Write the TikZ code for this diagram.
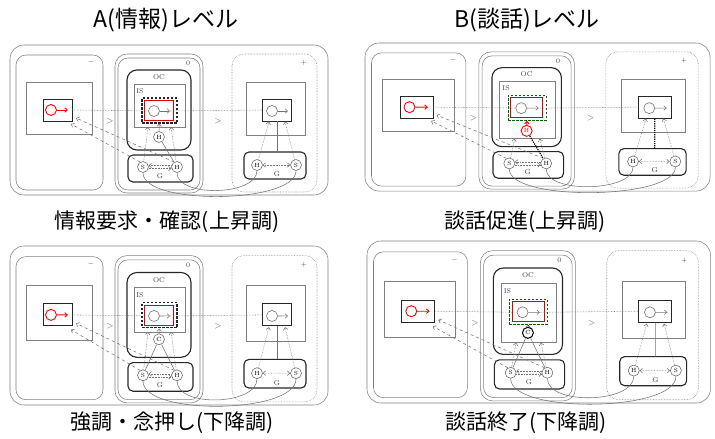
\documentclass[tikz,border=0pt]{standalone}
\usepackage{fontspec}
\newfontfamily\jp{Noto Sans CJK JP}
\usetikzlibrary{arrows.meta}
\tikzset{
  gl/.style={draw=black!55, line width=0.55pt},
  box/.style={draw=black!50, line width=0.55pt},
  tbox/.style={draw=black!85, line width=1.1pt},
  lab/.style={font=\fontsize{7}{7}\selectfont, text=black!75, inner sep=0pt},
  gt/.style={font=\fontsize{9}{9}\selectfont, text=black!60, inner sep=0pt},
  circ/.style={circle, draw=black!60, fill=white, line width=0.55pt, minimum size=11pt, inner sep=0pt, font=\fontsize{6}{6}\selectfont},
  bigc/.style={circle, draw=black!55, fill=white, line width=0.6pt, minimum size=11pt, inner sep=0pt},
  sbox/.style={draw=black!85, line width=0.9pt, minimum width=29pt, minimum height=22pt, inner sep=0pt},
  dbox/.style={line width=1.1pt, dash pattern=on 2.5pt off 1.5pt, minimum width=35pt, minimum height=25pt, inner sep=0pt},
  rbox/.style={draw=red!85!black, line width=0.6pt, minimum width=29pt, minimum height=20pt, inner sep=0pt},
  tip/.style={-{Straight Barb[length=2.5pt,width=4.5pt]}},
  tips/.style={{Straight Barb[length=2.5pt,width=4.5pt]}-{Straight Barb[length=2.5pt,width=4.5pt]}},
  title/.style={font=\jp\fontsize{23}{23}\selectfont, inner sep=0pt},
  capt/.style={font=\jp\fontsize{21}{21}\selectfont, inner sep=0pt},
}
\newcommand\panelbase[2]{%
  \draw[box, rounded corners=14pt] (0,0) rectangle (318,150);
  % left panel
  \draw[box, rounded corners=10pt] (6,10) rectangle (93,145);
  \node[lab] (mn) at (81,17) {$-$};
  \draw[box] (16,37) rectangle (82,89);
  \node[sbox] (ls) at (47.5,65) {};
  \node[bigc, draw=red, line width=0.9pt] (lc) at (41,65) {};
  \coordinate (lce) at (58,65);
  \draw[red, line width=0.9pt, tip] (lc) -- (lce);
  % centre panel
  \draw[box, rounded corners=12pt] (105,9) rectangle (193,148);
  \draw[box, rounded corners=10pt] (108,13) rectangle (190,145);
  \node[lab] (zr) at (178,18) {0};
  \draw[tbox, rounded corners=10pt] (117,25) rectangle (181,105);
  \node[lab] (oc) at (149,32) {OC};
  \draw[box] (124,39) rectangle (175,#1);
  \node[lab] (is) at (130,46) {IS};
  \node[dbox, draw=#2] (db) at (149.5,65.5) {};
  \node[rbox] (rb) at (149,65.5) {};
  \node[bigc] (cc) at (144,66) {};
  \coordinate (cce) at (160,66);
  \draw[gl, tip] (cc) -- (cce);
  \draw[tbox, rounded corners=5pt] (118,110) rectangle (183,137);
  \node[circ] (Sg) at (133,122) {S};
  \node[circ] (Hg) at (167,122) {H};
  \node[lab] (gg) at (150,131) {G};
  % right panel
  \draw[box, densely dotted, rounded corners=12pt] (222,9) rectangle (307,147);
  \node[lab] (pl) at (294,18) {$+$};
  \draw[box] (236,37) rectangle (295,90);
  \node[sbox] (rs) at (267,65) {};
  \node[bigc] (rc) at (262,66) {};
  \coordinate (rce) at (278,66);
  \draw[gl, tip] (rc) -- (rce);
  \draw[tbox, rounded corners=5pt] (234,107) rectangle (296,134);
  \node[circ] (rH) at (247,120) {H};
  \node[circ] (rS) at (286,120) {S};
  \node[lab] (rg) at (267,129) {G};
  \node[gt] (g1) at (100,76) {$>$};
  \node[gt] (g2) at (208,76) {$>$};
  % connectors
  \draw[gl, densely dotted] (ls.east) -- (cc);
  \draw[gl, densely dotted] (cce) -- (rs.west);
  \draw[gl, densely dotted, tip] (Hg.165) -- (Sg.15);
  \draw[gl, densely dotted, tip] (Sg.-15) -- (Hg.195);
  \coordinate (la) at (66,73);
  \coordinate (lb) at (61,79);
  \draw[gl, dashed, tip] (Sg.120) -- (lb);
  \draw[gl, dashed, tip] (Hg.120) -- (la);
  \coordinate (sa) at (138,#1);
  \coordinate (ha) at (161,#1);
  \draw[gl, densely dotted, tip] (Sg) -- (sa);
  \draw[gl, densely dotted, tip] (Hg) -- (ha);
  \coordinate (ra) at (259,76.5);
  \coordinate (rbb) at (275,76.5);
  \draw[gl, densely dotted, tip] (rH) -- (ra);
  \draw[gl, densely dotted, tip] (rS) -- (rbb);
  \draw[gl, densely dotted, tips] (rH) -- (rS);
  \coordinate (rgt) at (267,107);
  \draw[gl] (Sg.south) .. controls +(0,33) and +(0,33) .. (rS.south);
  \draw[gl] (Hg.south) .. controls +(0,25) and +(0,25) .. (rH.south);
}
\begin{document}
\begin{tikzpicture}[x=1pt, y=-1pt]
\useasboundingbox (0,0) rectangle (715,439);
\node[title] (t1) at (166,20) {A(情報)レベル};
\node[title] (t2) at (527,20) {B(談話)レベル};
\node[capt] (c1) at (167,222) {情報要求・確認(上昇調)};
\node[capt] (c2) at (525,222) {談話促進(上昇調)};
\node[capt] (c3) at (172,423) {強調・念押し(下降調)};
\node[capt] (c4) at (526,423) {談話終了(下降調)};
% A top
\begin{scope}[shift={(10,45)}]
  \panelbase{82}{black!85}
  \node[circ] (X) at (149,92) {H};
  \draw[gl, tip] (X) -- (db);
  \draw[gl] (X) -- (Hg);
  \draw[gl] (rgt) -- (rs);
\end{scope}
% B top
\begin{scope}[shift={(365,43)}, xscale=1.085, yscale=0.987,
  sbox/.append style={minimum width=33pt}, dbox/.append style={minimum width=38pt}, rbox/.append style={minimum width=32pt}]
  \panelbase{97}{green!40!black}
  \node[circ, draw=red, text=red, line width=0.9pt] (X) at (149,89) {H};
  \draw[red, line width=1pt, tip] (X) -- (db);
  \draw[black, line width=1.2pt, densely dotted] (X) -- (Hg);
  \draw[black, line width=1.2pt, densely dotted] (rgt) -- (rs);
\end{scope}
% A bottom
\begin{scope}[shift={(10,246)}, yscale=1.06]
  \panelbase{81}{black!85}
  \node[circ] (X) at (149,88) {C};
  \draw[gl, tip] (X) -- (db);
  \draw[gl] (X) -- (Sg);
  \draw[gl] (X) -- (Hg);
  \draw[gl] (rgt) -- (rs);
\end{scope}
% B bottom
\begin{scope}[shift={(367,241)}, xscale=1.08, yscale=1.08,
  sbox/.append style={minimum width=33pt}, dbox/.append style={minimum width=38pt}, rbox/.append style={minimum width=32pt}]
  \panelbase{94}{green!40!black}
  \node[circ, draw=black, line width=1pt] (X) at (149,85) {C};
  \draw[black!85, tip] (X) -- (db);
  \draw[gl] (X) -- (Sg);
  \draw[gl] (X) -- (Hg);
  \draw[gl] (rgt) -- (rs);
\end{scope}
\end{tikzpicture}
\end{document}
